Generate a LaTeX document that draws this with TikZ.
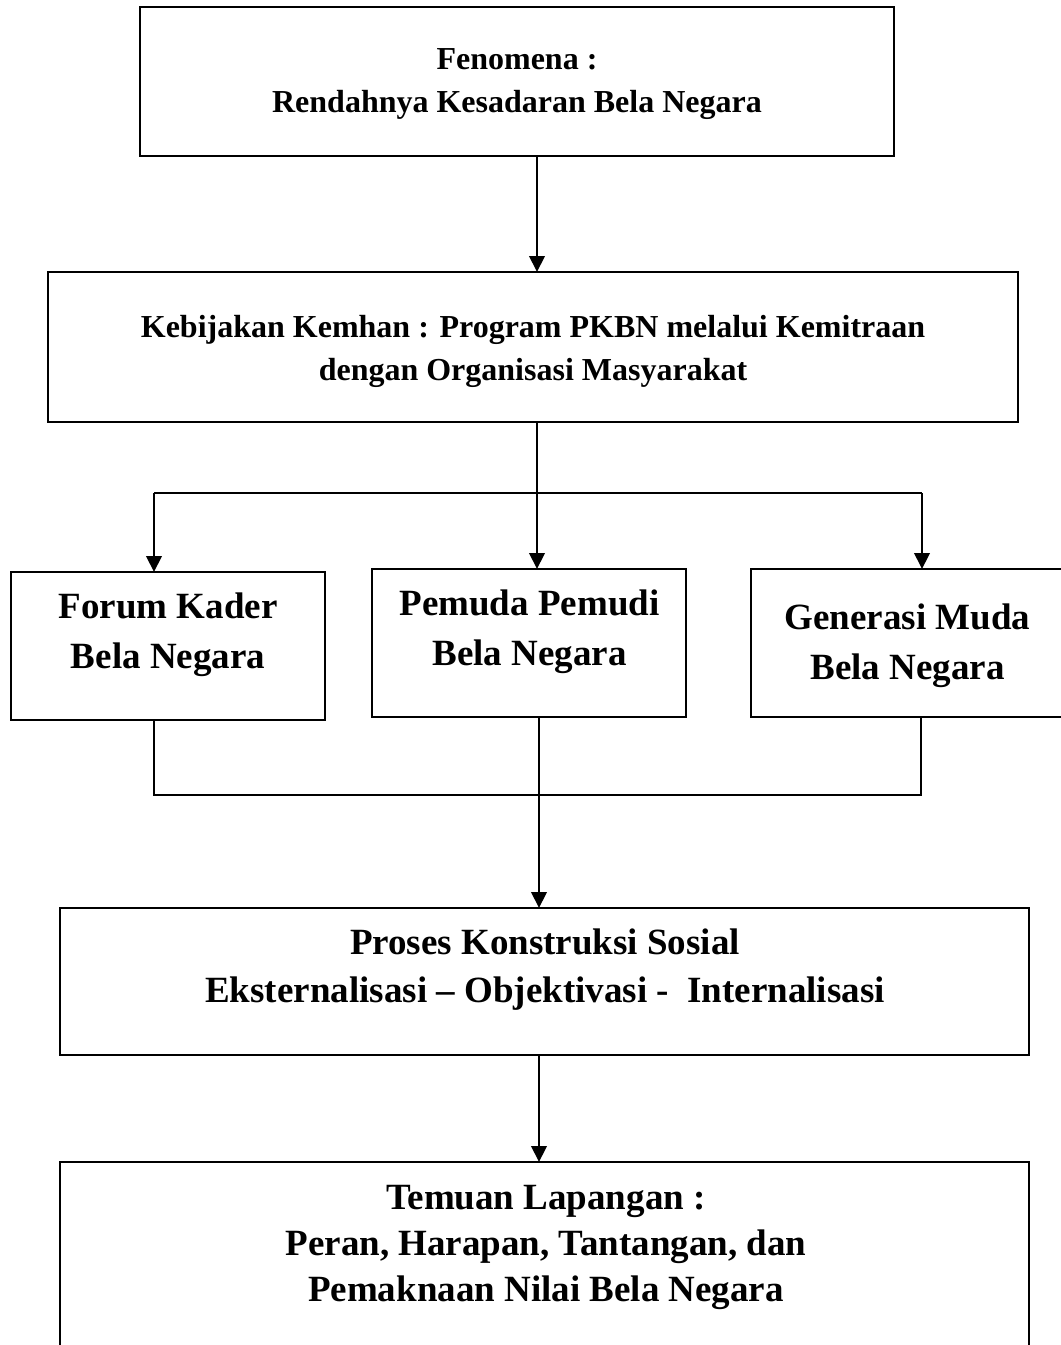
\documentclass[tikz,border=0pt]{standalone}
\usepackage{fontspec}
\setmainfont{Liberation Serif}
\usetikzlibrary{arrows.meta,fit}
\begin{document}
\begin{tikzpicture}[x=0.75pt,y=-0.75pt,
  box/.style={draw,line width=2.2pt,inner sep=0pt,outer sep=0pt,rectangle},
  txt/.style={align=center,inner sep=0pt,font=\bfseries},
  small/.style={font=\fontsize{24pt}{32.25pt}\selectfont\bfseries},
  big/.style={font=\fontsize{27.75pt}{37.5pt}\selectfont\bfseries},
  conn/.style={line width=2.1pt},
  arr/.style={line width=2.1pt,-{Triangle[length=12pt,width=11.5pt]}}]
\path[fill=white] (0,0) rectangle (1060,1345);
% boxes
\node[box,fit={(140,7) (894,156)}] (b1) {};
\node[box,fit={(48,272) (1018,422)}] (b2) {};
\node[box,fit={(11,572) (325,720)}] (b3) {};
\node[box,fit={(372,569) (686,717)}] (b4) {};
\node[box,fit={(751,569) (1065,717)}] (b5) {};
\node[box,fit={(60,908) (1029,1055)}] (b6) {};
\node[box,fit={(60,1162) (1029,1365)}] (b7) {};
% texts
\node[txt,small] (t1) at (517,84.5) {Fenomena :\\Rendahnya Kesadaran Bela Negara};
\node[txt,small] (t2) at (533,351.5) {Kebijakan Kemhan : Program PKBN melalui Kemitraan\\dengan Organisasi Masyarakat};
\node[txt,big] (t3) at (168,635) {Forum Kader\\Bela Negara};
\node[txt,big] (t4) at (529.5,632) {Pemuda Pemudi\\Bela Negara};
\node[txt,big] (t5) at (907.5,646) {Generasi Muda\\Bela Negara};
\node[txt,font=\fontsize{27.75pt}{36pt}\selectfont\bfseries] (t6) at (545,970) {Proses Konstruksi Sosial\\Eksternalisasi – Objektivasi -\ \ Internalisasi};
\node[txt,font=\fontsize{27.75pt}{34.5pt}\selectfont\bfseries] (t7) at (546,1247) {Temuan Lapangan :\\Peran, Harapan, Tantangan, dan\\Pemaknaan Nilai Bela Negara};
% guide coordinates
\coordinate (xa) at (537,0);
\coordinate (xl) at (154,0);
\coordinate (xr) at (922,0);
\coordinate (xm) at (539,0);
\coordinate (xr2) at (921,0);
\coordinate (hs) at (0,493);
\coordinate (hj) at (0,795);
% connectors
\draw[arr] (xa |- b1.south) -- (xa |- b2.north);
\draw[conn] (xa |- b2.south) -- (xa |- hs);
\draw[conn] (xl |- hs) -- (xr |- hs);
\draw[arr] (xl |- hs) -- (xl |- b3.north);
\draw[arr] (xa |- hs) -- (xa |- b4.north);
\draw[arr] (xr |- hs) -- (xr |- b5.north);
\draw[conn] (xl |- b3.south) -- (xl |- hj) -- (xr2 |- hj) -- (xr2 |- b5.south);
\draw[conn] (xm |- b4.south) -- (xm |- hj);
\draw[arr] (xm |- hj) -- (xm |- b6.north);
\draw[arr] (xm |- b6.south) -- (xm |- b7.north);
\pgfresetboundingbox
\useasboundingbox (0,0) rectangle (1060,1345);
\end{tikzpicture}
\end{document}
